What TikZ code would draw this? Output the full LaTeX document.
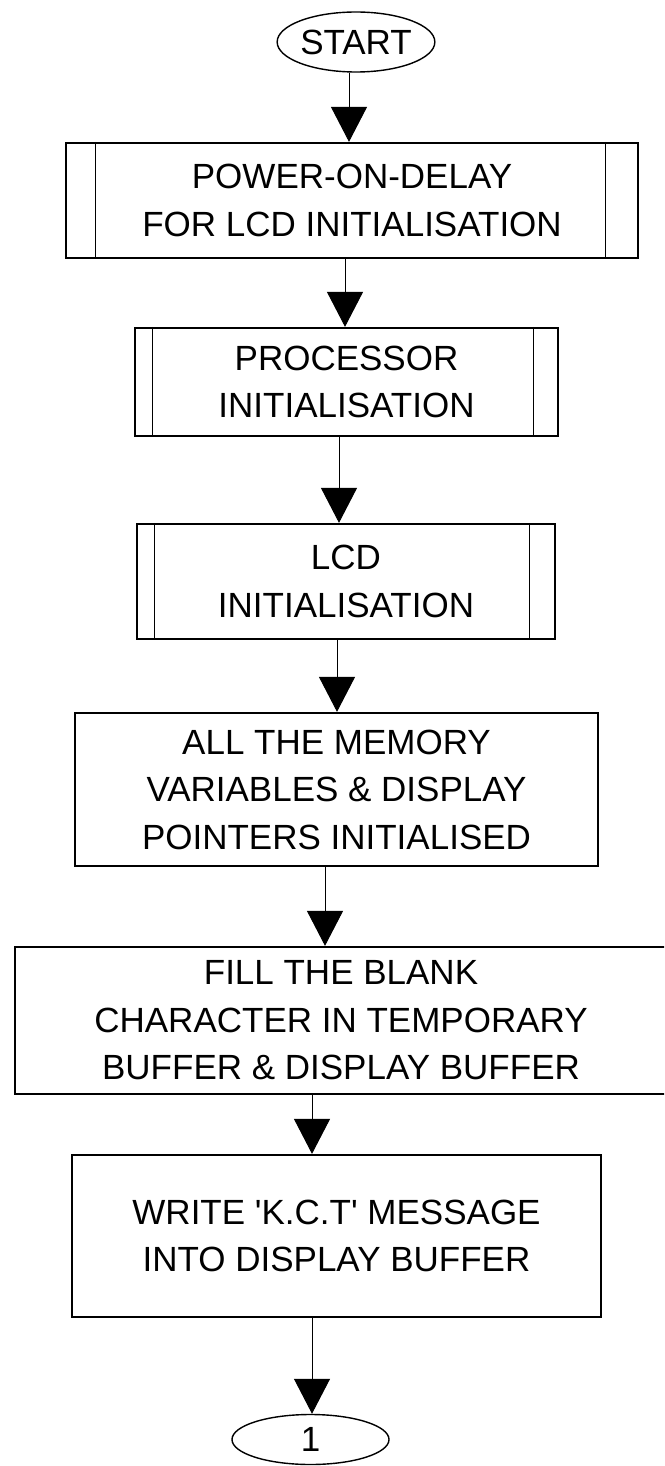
\documentclass[tikz,border=0pt]{standalone}
\usepackage{fontspec}
\setmainfont{Liberation Sans}
\usetikzlibrary{arrows.meta,shapes.geometric}
\begin{document}
\begin{tikzpicture}[x=0.5pt,y=-0.5pt,
  every node/.style={font=\fontsize{17.5}{23.75}\selectfont, align=center, inner sep=0pt},
  procbox/.style={draw, line width=1.1pt, rectangle},
  termin/.style={draw, line width=0.7pt, ellipse},
  flow/.style={line width=0.5pt, -{Triangle[width=18pt,length=17.5pt]}},
  innerline/.style={line width=0.5pt}]
\clip (0,0) rectangle (664,1466);
\fill[white] (0,0) rectangle (664,1466);

% terminals and boxes
\node[termin, minimum width=76pt, minimum height=30pt] (start) at (356,42) {START};
\node[procbox, minimum width=286pt, minimum height=57.5pt] (b1) at (352,200.5) {POWER-ON-DELAY\\FOR LCD INITIALISATION};
\node[procbox, minimum width=211.5pt, minimum height=54pt] (b2) at (346.5,382) {PROCESSOR\\INITIALISATION};
\node[procbox, minimum width=209pt, minimum height=57.5pt] (b3) at (346,581.5) {LCD\\INITIALISATION};
\node[procbox, minimum width=261.5pt, minimum height=76.5pt] (b4) at (336.5,789.5) {ALL THE MEMORY\\VARIABLES \& DISPLAY\\POINTERS INITIALISED};
\node[procbox, minimum width=326pt, minimum height=73.5pt] (b5) at (341,1020.5) {FILL THE BLANK\\CHARACTER IN TEMPORARY\\BUFFER \& DISPLAY BUFFER};
\node[procbox, minimum width=264.5pt, minimum height=81pt] (b6) at (336.5,1236) {WRITE \textquotesingle K.C.T\textquotesingle{} MESSAGE\\INTO DISPLAY BUFFER};
\node[termin, minimum width=78.5pt, minimum height=25pt] (conn) at (310.5,1439.5) {1};

% predefined-process side lines
\draw[innerline] ([xshift=15.5pt]b1.north west) -- ([xshift=15.5pt]b1.south west);
\draw[innerline] ([xshift=-17pt]b1.north east) -- ([xshift=-17pt]b1.south east);
\draw[innerline] ([xshift=9.5pt]b2.north west) -- ([xshift=9.5pt]b2.south west);
\draw[innerline] ([xshift=-13pt]b2.north east) -- ([xshift=-13pt]b2.south east);
\draw[innerline] ([xshift=9.5pt]b3.north west) -- ([xshift=9.5pt]b3.south west);
\draw[innerline] ([xshift=-13.5pt]b3.north east) -- ([xshift=-13.5pt]b3.south east);

% connector columns
\coordinate (c1) at (349,0);
\coordinate (c2) at (345,0);
\coordinate (c3) at (339,0);
\coordinate (c4) at (337,0);
\coordinate (c5) at (325,0);
\coordinate (c6) at (312,0);

\draw[flow] (start.south -| c1) -- (b1.north -| c1);
\draw[flow] (b1.south -| c2) -- (b2.north -| c2);
\draw[flow] (b2.south -| c3) -- (b3.north -| c3);
\draw[flow] (b3.south -| c4) -- (b4.north -| c4);
\draw[flow] (b4.south -| c5) -- (b5.north -| c5);
\draw[flow] (b5.south -| c6) -- (b6.north -| c6);
\draw[flow] (b6.south -| c6) -- (conn.north -| c6);
\end{tikzpicture}
\end{document}
